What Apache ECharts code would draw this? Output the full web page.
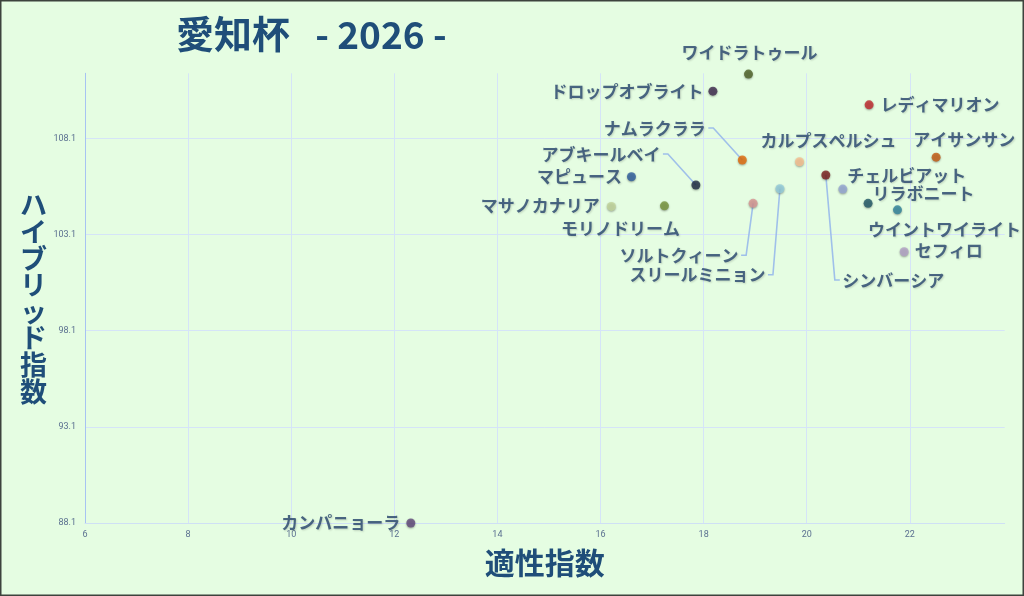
<!DOCTYPE html>
<html>
<head>
<meta charset="utf-8">
<script src="https://cdn.jsdelivr.net/npm/echarts@6/dist/echarts.min.js"></script>
<style>
html,body{margin:0;padding:0;background:#e5fde2;}
#chart{width:1024px;height:596px;}
</style>
</head>
<body>
<div id="chart"></div>
<script>
// ---- data ----
const horseNames = ['ワイドラトゥール','ドロップオブライト','ナムラクララ','アブキールベイ','マピュース','マサノカナリア','モリノドリーム','ソルトクィーン','スリールミニョン','カルプスペルシュ','シンバーシア','チェルビアット','リラボニート','ウイントワイライト','セフィロ','レディマリオン','アイサンサン','カンパニョーラ'];
const aptitudeIndex = [18.87,18.18,18.75,17.85,16.60,16.21,17.24,18.96,19.48,19.86,20.37,20.70,21.19,21.76,21.89,21.21,22.51,12.32];
const hybridIndex = [111.44,110.55,106.97,105.67,106.10,104.56,104.59,104.72,105.48,106.88,106.19,105.46,104.72,104.38,102.20,109.84,107.12,88.10];
const xTicks = [6,8,10,12,14,16,18,20,22];
const yTicks = [88.1,93.1,98.1,103.1,108.1];

// ---- styles ----
const dotColors = ['#4f6228','#3f2a4f','#e46c0a','#1f2a44','#2e5e9e','#c3d69b','#77933c','#d99694','#93cddd','#fac090','#7a1e1e','#95a8d4','#215867','#31859c','#b3a2c7','#c0282d','#c55a11','#60497a'];
const labelPlace = {
  'ワイドラトゥール':{pos:'top',off:[1,-4]},
  'ドロップオブライト':{pos:'left',off:[0,0]},
  'ナムラクララ':{pos:'left',off:[-27,-32],line:true},
  'アブキールベイ':{pos:'left',off:[-26,-31],line:true},
  'マピュース':{pos:'left',off:[0,0]},
  'マサノカナリア':{pos:'left',off:[-2,-1]},
  'モリノドリーム':{pos:'bottom',off:[-44,5]},
  'ソルトクィーン':{pos:'left',off:[-5,52],line:true},
  'スリールミニョン':{pos:'left',off:[-5,86],line:true},
  'カルプスペルシュ':{pos:'top',off:[29,-3]},
  'シンバーシア':{pos:'right',off:[7,105],line:true},
  'チェルビアット':{pos:'right',off:[-5,-14]},
  'リラボニート':{pos:'right',off:[-5,-10]},
  'ウイントワイライト':{pos:'bottom',off:[47,2]},
  'セフィロ':{pos:'right',off:[1,-1]},
  'レディマリオン':{pos:'right',off:[2,0]},
  'アイサンサン':{pos:'top',off:[28,0]},
  'カンパニョーラ':{pos:'left',off:[-1,0]}
};
const SYMBOL = 9, LABEL_DIST = 5;

const seriesData = horseNames.map((n,i)=>{
  const p = labelPlace[n];
  return {
    name:n,
    value:[aptitudeIndex[i],hybridIndex[i]],
    itemStyle:{color:dotColors[i]},
    label:{position:p.pos,offset:p.off}
  };
});
const leaderData = horseNames.map((n,i)=>[aptitudeIndex[i],hybridIndex[i],i]).filter(d=>labelPlace[horseNames[d[2]]].line);

const chart = echarts.init(document.getElementById('chart'));
chart.setOption({
  animation:false,
  backgroundColor:'#e5fde2',
  title:{
    text:'{a|愛知杯}{b|   - 2026 -}',
    left:176, top:9, padding:0,
    textStyle:{
      rich:{
        a:{fontFamily:'Noto Sans CJK JP',fontSize:38,fontWeight:'bold',color:'#1f4e79',lineHeight:44,verticalAlign:'bottom'},
        b:{fontFamily:'Noto Sans CJK JP',fontSize:37,fontWeight:'bold',color:'#1f4e79',lineHeight:44,verticalAlign:'bottom'}
      }
    }
  },
  graphic:[{
    type:'rect', silent:true, z:100,
    shape:{x:0.75,y:0.75,width:1022.5,height:594.5},
    style:{fill:'none',stroke:'#3d433d',lineWidth:1.5}
  }],
  grid:{left:85,right:19.3,top:73.3,bottom:73,containLabel:false},
  xAxis:{
    type:'value', min:6, max:23.84,
    name:'適性指数', nameLocation:'middle', nameGap:25,
    nameTextStyle:{fontFamily:'Noto Sans CJK JP',fontSize:30,fontWeight:'bold',color:'#1f4e79'},
    axisLine:{show:true,lineStyle:{color:'#cfe0f5',width:1}},
    axisTick:{show:false,customValues:xTicks},
    axisLabel:{customValues:xTicks,fontSize:9,color:'#5b7090',margin:7,fontFamily:'Roboto'},
    splitLine:{show:true,lineStyle:{color:'#d5e4f8',width:1}}
  },
  yAxis:{
    type:'value', min:88.1, max:111.48,
    name:'ハイブリッド指数'.split('').join('\n'), nameLocation:'middle', nameGap:38, nameRotate:0,
    nameTextStyle:{fontFamily:'Noto Sans CJK JP',fontSize:27,fontWeight:'bold',color:'#1f4e79',lineHeight:26.6},
    axisLine:{show:true,lineStyle:{color:'#a7c3f2',width:1}},
    axisTick:{show:false,customValues:yTicks},
    axisLabel:{customValues:yTicks,fontSize:9,color:'#5b7090',margin:9,fontFamily:'Roboto',formatter:v=>v.toFixed(1)},
    splitLine:{show:true,lineStyle:{color:'#d5e4f8',width:1}}
  },
  series:[{
    type:'custom',
    silent:true,
    data:leaderData,
    renderItem:function(params, api){
      const idx = api.value(2);
      const p = labelPlace[horseNames[idx]];
      const c = api.coord([api.value(0), api.value(1)]);
      const r = SYMBOL/2 + LABEL_DIST;
      const sy = c[1] + p.off[1];
      let sx, ex;
      if (p.pos === 'left') { sx = c[0] - r + p.off[0] + 2.5; ex = sx + 5; }
      else { sx = c[0] + r + p.off[0] - 2.5; ex = sx - 5; }
      return {type:'polyline', shape:{points:[[sx,sy],[ex,sy],c]}, style:{stroke:'#9fc0ea',lineWidth:1.6,fill:null}};
    }
  },{
    type:'scatter',
    symbolSize:SYMBOL,
    data:seriesData,
    itemStyle:{shadowBlur:2,shadowColor:'rgba(0,0,0,0.4)',shadowOffsetY:1},
    label:{
      show:true, formatter:'{b}', distance:LABEL_DIST,
      fontFamily:'Noto Sans CJK JP', fontSize:17, fontWeight:'bold', color:'#24426c',
      textShadowColor:'rgba(0,0,0,0.2)', textShadowBlur:2, textShadowOffsetX:1, textShadowOffsetY:1
    },
    emphasis:{disabled:true}
  }]
});
</script>
</body>
</html>
